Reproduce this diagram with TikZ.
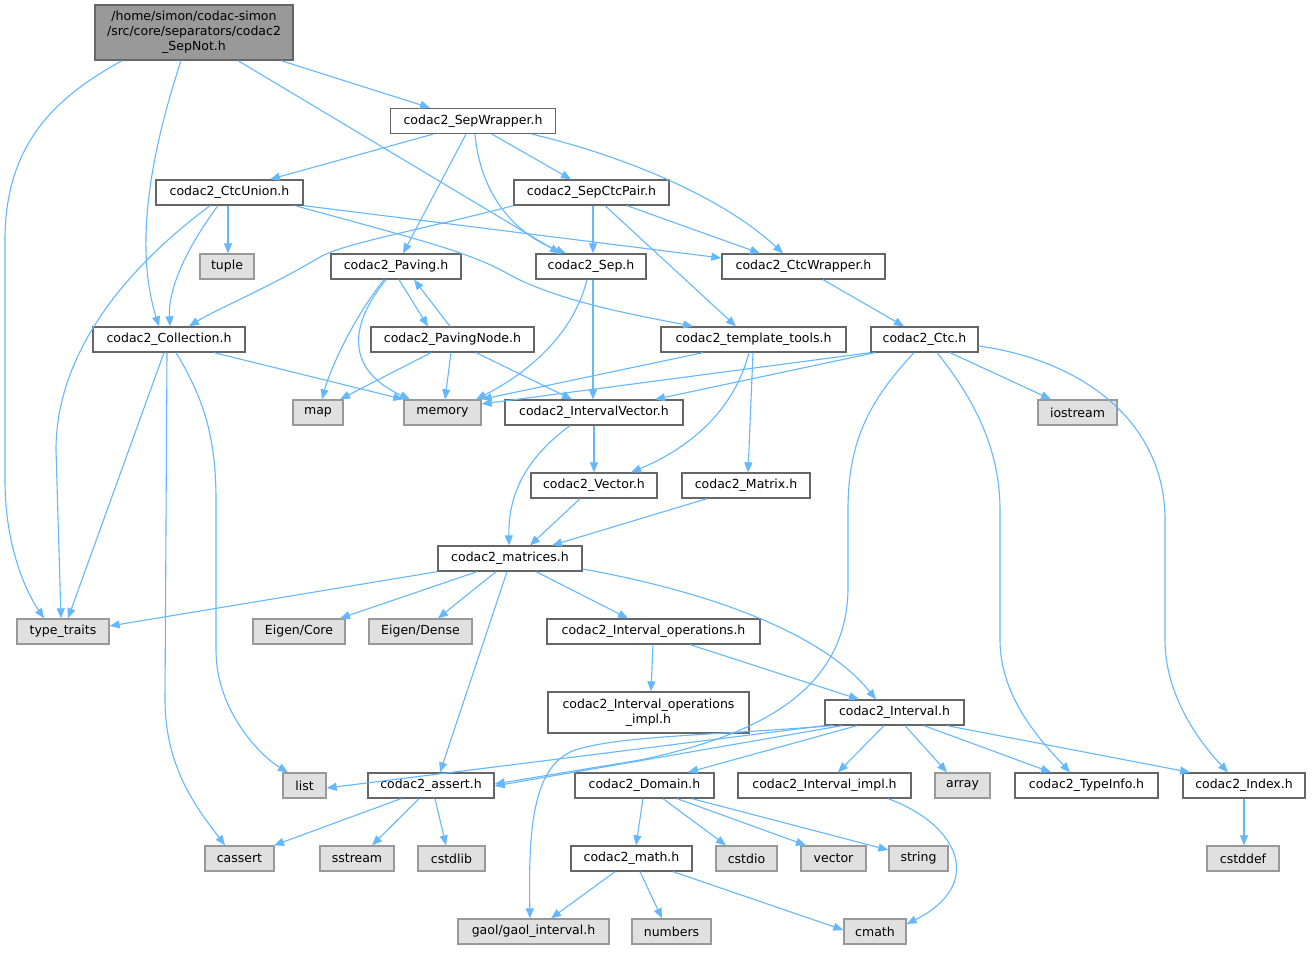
\documentclass[tikz,border=0pt]{standalone}
\usepackage{fontspec}
\newfontfamily\dej{DejaVu Sans}
\usetikzlibrary{arrows.meta}
\definecolor{edgec}{HTML}{63B8FF}
\definecolor{bord}{HTML}{666666}
\definecolor{gbord}{HTML}{999999}
\definecolor{gfill}{HTML}{E0E0E0}
\definecolor{rootfill}{HTML}{999999}
\begin{document}
\begin{tikzpicture}[x=1pt,y=-1pt,
 box/.style={draw=bord, line width=1.3pt, fill=white, inner sep=0pt, minimum height=25pt, font=\dej\fontsize{12.5}{15}\selectfont, align=center},
 sys/.style={box, draw=gbord, fill=gfill},
 dep/.style={draw=edgec, line width=1.1pt, -{Triangle[length=10pt,width=8pt]}}]
\fill[white] (0,0) rectangle (1312,960);
\useasboundingbox (0,0) rectangle (1312,960);
% nodes
\node[box, fill=rootfill, minimum width=198pt, minimum height=55pt] (root) at (194,32.5) {/home/simon/codac-simon\\/src/core/separators/codac2\\\_SepNot.h};
\node[box, minimum width=165pt] (sw) at (473,121) {codac2\_SepWrapper.h};
\node[box, minimum width=147pt] (cu) at (229.5,192.5) {codac2\_CtcUnion.h};
\node[box, minimum width=155pt] (scp) at (591.5,192.5) {codac2\_SepCtcPair.h};
\node[sys, minimum width=54pt] (tup) at (227,266.5) {tuple};
\node[box, minimum width=130pt] (pav) at (396,266.5) {codac2\_Paving.h};
\node[box, minimum width=110pt] (sep) at (591,266.5) {codac2\_Sep.h};
\node[box, minimum width=163pt] (cw) at (803.5,266.5) {codac2\_CtcWrapper.h};
\node[box, minimum width=152pt] (col) at (169,339.5) {codac2\_Collection.h};
\node[box, minimum width=163pt] (pn) at (452.5,339.5) {codac2\_PavingNode.h};
\node[box, minimum width=185pt] (tpl) at (753.5,339.5) {codac2\_template\_tools.h};
\node[box, minimum width=107pt] (ctc) at (924.5,339.5) {codac2\_Ctc.h};
\node[sys, minimum width=50pt] (map) at (318,412.5) {map};
\node[sys, minimum width=77pt] (mem) at (442.5,412.5) {memory};
\node[box, minimum width=178pt] (iv) at (594,412.5) {codac2\_IntervalVector.h};
\node[sys, minimum width=79pt] (ios) at (1077.5,412.5) {iostream};
\node[box, minimum width=126pt] (vec) at (594,485.5) {codac2\_Vector.h};
\node[box, minimum width=128pt] (mat) at (746,485.5) {codac2\_Matrix.h};
\node[box, minimum width=144pt] (mtx) at (510,558.5) {codac2\_matrices.h};
\node[sys, minimum width=92pt] (tt) at (63,631.5) {type\_traits};
\node[sys, minimum width=92pt] (ecore) at (299,631.5) {Eigen/Core};
\node[sys, minimum width=103pt] (edense) at (420.5,631.5) {Eigen/Dense};
\node[box, minimum width=213pt] (iops) at (653.5,631.5) {codac2\_Interval\_operations.h};
\node[box, minimum width=201pt, minimum height=41pt] (iopsi) at (648.5,712.5) {codac2\_Interval\_operations\\\_impl.h};
\node[box, minimum width=139pt] (itv) at (894.5,712.5) {codac2\_Interval.h};
\node[sys, minimum width=43pt] (lst) at (304.5,785.5) {list};
\node[box, minimum width=126pt] (asr) at (431,785.5) {codac2\_assert.h};
\node[box, minimum width=139pt] (dom) at (644.5,785.5) {codac2\_Domain.h};
\node[box, minimum width=173pt] (iimpl) at (824.5,785.5) {codac2\_Interval\_impl.h};
\node[sys, minimum width=55pt] (arr) at (962.5,785.5) {array};
\node[box, minimum width=143pt] (tinfo) at (1086.5,785.5) {codac2\_TypeInfo.h};
\node[box, minimum width=122pt] (idx) at (1244,785.5) {codac2\_Index.h};
\node[sys, minimum width=69pt] (cas) at (239.5,858.5) {cassert};
\node[sys, minimum width=74pt] (sst) at (357,858.5) {sstream};
\node[sys, minimum width=67pt] (csl) at (451.5,858.5) {cstdlib};
\node[box, minimum width=121pt] (mth) at (631.5,858.5) {codac2\_math.h};
\node[sys, minimum width=61pt] (cio) at (746.5,858.5) {cstdio};
\node[sys, minimum width=65pt] (vct) at (833.5,858.5) {vector};
\node[sys, minimum width=59pt] (str) at (918.5,858.5) {string};
\node[sys, minimum width=72pt] (cdf) at (1243,858.5) {cstddef};
\node[sys, minimum width=151pt] (gaol) at (533.5,931.5) {gaol/gaol\_interval.h};
\node[sys, minimum width=79pt] (num) at (671.5,931.5) {numbers};
\node[sys, minimum width=62pt] (cmt) at (875,931.5) {cmath};
% edges
\draw[dep] (root.south -| 122,0) .. controls (60,95) and (5,140) .. (5,240) -- (5,480) .. controls (5,545) and (25,590) .. (tt.north -| 44,0);
\draw[dep] (root.south -| 181,0) .. controls (155,140) and (132,240) .. (col.north -| 159,0);
\draw[dep] (root.south -| 238,0) -- (sep.north -| 560,0);
\draw[dep] (root.south -| 281,0) -- (sw.north -| 430,0);
\draw[dep] (sw.south -| 433,0) -- (cu.north -| 270,0);
\draw[dep] (sw.south -| 466,0) -- (pav.north -| 403,0);
\draw[dep] (sw.south -| 475,0) .. controls (480,190) and (510,232) .. (sep.north -| 566,0);
\draw[dep] (sw.south -| 492,0) -- (scp.north -| 571,0);
\draw[dep] (sw.south -| 532,0) .. controls (620,155) and (720,195) .. (cw.north -| 783,0);
\draw[dep] (cu.south -| 228,0) -- (tup.north -| 228,0);
\draw[dep] (cu.south -| 218,0) .. controls (185,250) and (168,290) .. (col.north -| 170,0);
\draw[dep] (cu.south -| 210,0) .. controls (130,265) and (56,350) .. (56,450) -- (tt.north -| 61,0);
\draw[dep] (cu.south east) -- (cw.west |- 0,258);
\draw[dep] (cu.south -| 295,0) .. controls (420,240) and (470,252) .. (510,275) .. controls (560,302) and (640,316) .. (tpl.north -| 693,0);
\draw[dep] (scp.south west) .. controls (420,230) and (345,243) .. (320,257) .. controls (270,287) and (215,310) .. (col.north -| 189,0);
\draw[dep] (scp.south -| 593,0) -- (sep.north -| 593,0);
\draw[dep] (scp.south -| 627,0) -- (cw.north -| 760,0);
\draw[dep] (scp.south -| 605,0) -- (tpl.north -| 736,0);
\draw[dep] (pav.south -| 399,0) -- (pn.north -| 428,0);
\draw[dep] (pn.north -| 450,0) -- (pav.south -| 414,0);
\draw[dep] (pav.south -| 384,0) .. controls (352,320) and (330,370) .. (map.north -| 322,0);
\draw[dep] (pav.south -| 386,0) .. controls (345,330) and (350,372) .. (mem.north -| 410,0);
\draw[dep] (sep.south -| 587,0) .. controls (572,340) and (520,377) .. (mem.north -| 476,0);
\draw[dep] (sep.south -| 593,0) -- (iv.north -| 593,0);
\draw[dep] (cw.south -| 823,0) -- (ctc.north -| 904,0);
\draw[dep] (col.south -| 214,0) -- (mem.north west);
\draw[dep] (col.south -| 164,0) -- (tt.north -| 68,0);
\draw[dep] (col.south -| 167,0) -- (165,700) .. controls (165,770) and (200,812) .. (cas.north -| 225,0);
\draw[dep] (col.south -| 176,0) .. controls (205,400) and (216,440) .. (216,500) -- (216,650) .. controls (216,712) and (262,757) .. (lst.north -| 288,0);
\draw[dep] (pn.south -| 431,0) -- (map.north -| 340,0);
\draw[dep] (pn.south -| 451,0) -- (mem.north -| 445,0);
\draw[dep] (pn.south -| 476,0) -- (iv.north -| 572,0);
\draw[dep] (tpl.south -| 703,0) -- (mem.north east);
\draw[dep] (tpl.south -| 749,0) .. controls (732,418) and (680,452) .. (vec.north -| 631,0);
\draw[dep] (tpl.south -| 753,0) -- (mat.north -| 748,0);
\draw[dep] (ctc.south west) -- (mem.east |- 0,404);
\draw[dep] (ctc.south -| 875,0) -- (iv.north -| 655,0);
\draw[dep] (ctc.south -| 950,0) -- (ios.north -| 1051,0);
\draw[dep] (ctc.south -| 914,0) .. controls (870,400) and (848,440) .. (848,510) -- (848,590) .. controls (846,690) and (760,735) .. (640,760) -- (asr.east |- 0,784);
\draw[dep] (ctc.south -| 937,0) .. controls (975,400) and (1000,450) .. (1000,510) -- (1000,640) .. controls (1000,700) and (1045,745) .. (tinfo.north -| 1070,0);
\draw[dep] (ctc.east |- 0,346) .. controls (1080,360) and (1165,420) .. (1165,520) -- (1165,640) .. controls (1165,700) and (1205,748) .. (idx.north -| 1228,0);
\draw[dep] (iv.south -| 594,0) -- (vec.north -| 594,0);
\draw[dep] (iv.south -| 570,0) .. controls (530,455) and (508,490) .. (mtx.north -| 509,0);
\draw[dep] (vec.south -| 580,0) -- (mtx.north -| 530,0);
\draw[dep] (mat.south -| 707,0) -- (mtx.north -| 552,0);
\draw[dep] (mtx.south west) -- (tt.east |- 0,626);
\draw[dep] (mtx.south -| 477,0) -- (ecore.north -| 340,0);
\draw[dep] (mtx.south -| 496,0) -- (edense.north -| 438,0);
\draw[dep] (mtx.south -| 507,0) -- (asr.north -| 440,0);
\draw[dep] (mtx.south -| 536,0) -- (iops.north -| 628,0);
\draw[dep] (mtx.east |- 0,569) .. controls (700,590) and (820,630) .. (itv.north -| 876,0);
\draw[dep] (iops.south -| 653,0) -- (iopsi.north -| 651,0);
\draw[dep] (iops.south -| 690,0) -- (itv.north -| 859,0);
\draw[dep] (itv.south west) -- (lst.east |- 0,788);
\draw[dep] (itv.south -| 842,0) -- (asr.east |- 0,786);
\draw[dep] (itv.south -| 833,0) .. controls (700,736) and (620,736) .. (575,750) .. controls (535,765) and (528,820) .. (gaol.north -| 530,0);
\draw[dep] (itv.south -| 857,0) -- (dom.north -| 688,0);
\draw[dep] (itv.south -| 884,0) -- (iimpl.north -| 838,0);
\draw[dep] (itv.south -| 905,0) -- (arr.north -| 947,0);
\draw[dep] (itv.south -| 924,0) -- (tinfo.north -| 1051,0);
\draw[dep] (itv.south -| 947,0) -- (idx.north -| 1190,0);
\draw[dep] (asr.south -| 401,0) -- (cas.north -| 274,0);
\draw[dep] (asr.south -| 419,0) -- (sst.north -| 372,0);
\draw[dep] (asr.south -| 435,0) -- (csl.north -| 446,0);
\draw[dep] (dom.south -| 643,0) -- (mth.north -| 636,0);
\draw[dep] (dom.south -| 663,0) -- (cio.north -| 726,0);
\draw[dep] (dom.south -| 677,0) -- (vct.north -| 806,0);
\draw[dep] (dom.south -| 692,0) -- (str.west |- 0,850);
\draw[dep] (iimpl.south -| 888,0) .. controls (960,825) and (985,885) .. (cmt.east |- 0,924);
\draw[dep] (mth.south -| 615,0) -- (gaol.north -| 551,0);
\draw[dep] (mth.south -| 640,0) -- (num.north -| 662,0);
\draw[dep] (mth.south -| 673,0) -- (cmt.west |- 0,930);
\draw[dep] (idx.south) -- (cdf.north -| 1244,0);
\end{tikzpicture}
\end{document}
